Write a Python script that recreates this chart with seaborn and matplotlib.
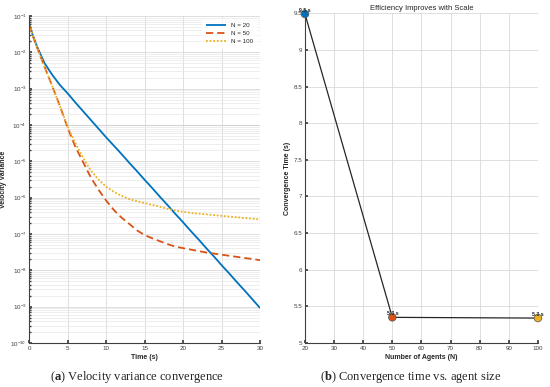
import numpy as np
import pandas as pd
import matplotlib
matplotlib.use("Agg")
import matplotlib.pyplot as plt
import seaborn as sns

# =============================
# DATA
# =============================
time_s = [0, 0.5, 1, 2, 3, 4, 5, 6, 7, 8, 9, 10, 11, 12, 13, 14, 15,
          16, 17, 18, 19, 20, 21, 22, 23, 24, 25, 26, 27, 28, 29, 30]

# log10 of velocity variance
log_var_n20 = [-1.20, -1.55, -1.83, -2.30, -2.62, -2.90, -3.13, -3.38, -3.62, -3.86,
               -4.10, -4.34, -4.57, -4.80, -5.04, -5.27, -5.51, -5.74, -5.98, -6.21,
               -6.45, -6.68, -6.92, -7.15, -7.39, -7.62, -7.86, -8.09, -8.33, -8.56,
               -8.80, -9.04]
log_var_n50 = [-1.25, -1.55, -1.85, -2.40, -2.93, -3.48, -4.08, -4.60, -5.02, -5.44,
               -5.78, -6.08, -6.34, -6.55, -6.72, -6.90, -7.03, -7.12, -7.20, -7.28,
               -7.35, -7.39, -7.43, -7.47, -7.51, -7.54, -7.57, -7.60, -7.63, -7.66,
               -7.69, -7.72]
log_var_n100 = [-1.25, -1.55, -1.85, -2.40, -2.93, -3.48, -4.05, -4.50, -4.90, -5.25,
                -5.50, -5.70, -5.84, -5.95, -6.04, -6.10, -6.15, -6.20, -6.25, -6.31,
                -6.35, -6.39, -6.42, -6.44, -6.46, -6.48, -6.50, -6.52, -6.54, -6.56,
                -6.58, -6.60]

agents = [20, 50, 100]
conv_time = [9.49, 5.35, 5.34]
conv_labels = ["9.5 s", "5.3 s", "5.3 s"]

series_names = ["N = 20", "N = 50", "N = 100"]
colors = ["#0072BD", "#D95319", "#EDB120"]

# =============================
# STYLE
# =============================
sns.set_theme(style="white")
plt.rcParams["font.family"] = ["Liberation Sans", "DejaVu Sans"]
plt.rcParams["mathtext.fontset"] = "custom"
plt.rcParams["mathtext.rm"] = "Liberation Serif"
plt.rcParams["mathtext.bf"] = "Liberation Serif:bold"

fig = plt.figure(figsize=(5.5, 3.87), dpi=100)
ax1 = fig.add_axes([0.053, 0.1137, 0.420, 0.845])
ax2 = fig.add_axes([0.5545, 0.1137, 0.4235, 0.852])

# =============================
# (a) Velocity variance convergence
# =============================
df = pd.DataFrame({
    "t": time_s * 3,
    "var": [10 ** v for v in log_var_n20 + log_var_n50 + log_var_n100],
    "N": [series_names[0]] * len(time_s) + [series_names[1]] * len(time_s)
         + [series_names[2]] * len(time_s),
})
sns.lineplot(data=df, x="t", y="var", hue="N", style="N",
             palette=colors, dashes=[(1, 0), (4, 2.2), (1, 1)],
             linewidth=1.3, ax=ax1, legend=True)
ax1.set_yscale("log")
ax1.set_xlim(0, 30)
ax1.set_ylim(1e-10, 1e-1)
ax1.set_xticks(range(0, 31, 5))
ax1.set_yticks([10.0 ** k for k in range(-10, 0)])
ax1.yaxis.set_minor_locator(matplotlib.ticker.LogLocator(base=10, subs=np.arange(2, 10), numticks=20))
ax1.yaxis.set_minor_formatter(matplotlib.ticker.NullFormatter())
ax1.grid(True, which="major", color="#d9d9d9", linewidth=0.6)
ax1.grid(True, which="minor", axis="y", color="#e8e8e8", linewidth=0.5)
ax1.axhline(1e-4, color="#b0b0b0", linewidth=0.7, zorder=0)
ax1.set_xlabel("Time (s)", fontsize=5, fontweight="bold", labelpad=2)
ax1.set_ylabel("Velocity Variance", fontsize=5, fontweight="bold", labelpad=2)
leg = ax1.legend(loc="upper right", fontsize=4.5, frameon=True, handlelength=3.2,
                 borderpad=0.6, labelspacing=0.4)
leg.get_frame().set_edgecolor("white")
leg.get_frame().set_facecolor("white")

# =============================
# (b) Convergence time vs agent size
# =============================
sns.lineplot(x=agents, y=conv_time, color="#262626", linewidth=0.9, ax=ax2)
sns.scatterplot(x=agents, y=conv_time, hue=series_names, palette=colors,
                s=30, edgecolor="#555555", linewidth=0.5, legend=False,
                ax=ax2, zorder=3, clip_on=False)
for xv, yv, lab in zip(agents, conv_time, conv_labels):
    ax2.text(xv, yv + 0.02, lab, fontsize=3.8, fontweight="bold",
             ha="center", va="bottom")
ax2.set_xlim(20, 100)
ax2.set_ylim(5, 9.5)
ax2.set_xticks(range(20, 101, 10))
ax2.set_yticks(np.arange(5, 9.51, 0.5))
ax2.set_yticklabels(["5", "5.5", "6", "6.5", "7", "7.5", "8", "8.5", "9", "9.5"])
ax2.grid(True, color="#d9d9d9", linewidth=0.6)
ax2.set_title("Efficiency Improves with Scale", fontsize=5.5, pad=2)
ax2.set_xlabel("Number of Agents (N)", fontsize=5, fontweight="bold", labelpad=2)
ax2.set_ylabel("Convergence Time (s)", fontsize=5, fontweight="bold", labelpad=2)

for ax in (ax1, ax2):
    for side in ("top", "right"):
        ax.spines[side].set_visible(False)
    for side in ("left", "bottom"):
        ax.spines[side].set_color("#404040")
        ax.spines[side].set_linewidth(0.8)
    ax.tick_params(axis="both", which="both", direction="in", labelsize=4.5,
                   colors="#404040", labelcolor="#404040", pad=2)
    ax.tick_params(which="major", length=2.5, left=True, bottom=True)
    ax.tick_params(which="minor", length=1.5, left=True)

# =============================
# CAPTIONS
# =============================
fig.text(0.25, 0.026, "(" + r"$\mathbf{a}$" + ") Velocity variance convergence",
         ha="center", va="center", fontsize=9, family="Liberation Serif")
fig.text(0.747, 0.026, "(" + r"$\mathbf{b}$" + ") Convergence time vs. agent size",
         ha="center", va="center", fontsize=9, family="Liberation Serif")

fig.savefig("out.png", dpi=100)
plt.close(fig)
